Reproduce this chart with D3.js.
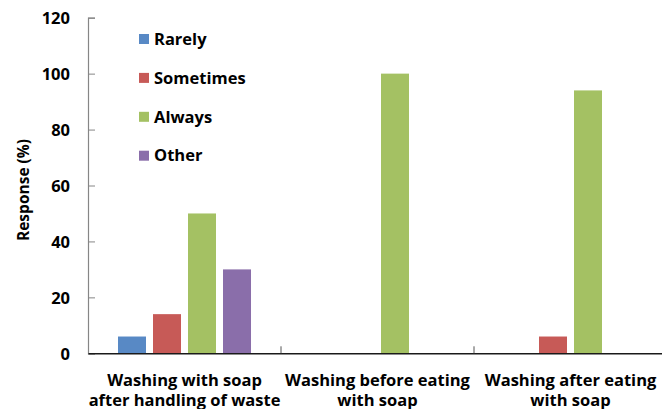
<!DOCTYPE html>
<html>
<head>
<meta charset="utf-8">
<script src="https://cdn.jsdelivr.net/npm/d3@7"></script>
<style>
  html, body { margin: 0; padding: 0; background: #fff; }
  svg { display: block; }
  text { font-family: "Open Sans", Lato, sans-serif; font-weight: bold; fill: #000; }
</style>
</head>
<body>
<svg id="chart" width="662" height="409"></svg>
<script>
// Hand-washing practice responses (%)
const categories = [
  ["Washing with soap", "after handling of waste"],
  ["Washing before eating", "with soap"],
  ["Washing after eating", "with soap"]
];
const series = ["Rarely", "Sometimes", "Always", "Other"];
const rarely    = [6, 0, 0];
const sometimes = [14, 0, 6];
const always    = [50, 100, 94];
const other     = [30, 0, 0];
const yTicks = [0, 20, 40, 60, 80, 100, 120];
const colors = ["#5889c5", "#c75a57", "#a4c163", "#8a6eaa"];

const values = [rarely, sometimes, always, other];

const svg = d3.select("#chart");

const y = d3.scaleLinear().domain([0, 120]).range([353.3, 17.7]);
const x0 = d3.scaleBand().domain(d3.range(categories.length)).range([88, 667]);
const x1 = d3.scaleBand().domain(series).range([0, x0.bandwidth()])
  .paddingInner(0.2).paddingOuter(0.857);
const color = d3.scaleOrdinal().domain(series).range(colors);

// Bars
const groups = svg.append("g").selectAll("g")
  .data(categories.map((c, i) => i))
  .join("g")
  .attr("transform", i => `translate(${x0(i)},0)`);

groups.selectAll("rect")
  .data(i => series.map((s, k) => ({ s, v: values[k][i] })).filter(d => d.v > 0))
  .join("rect")
  .attr("x", d => x1(d.s))
  .attr("width", x1.bandwidth())
  .attr("y", d => y(d.v))
  .attr("height", d => y(0) - y(d.v))
  .attr("fill", d => color(d.s));

// Y axis
const yAxis = d3.axisRight(y).tickValues(yTicks).tickSize(7).tickFormat(d3.format("d"));
const gy = svg.append("g").attr("transform", "translate(88,0)").call(yAxis);
gy.select(".domain").attr("stroke", "#868686").attr("stroke-width", 1.2);
gy.selectAll(".tick line").attr("stroke", "#868686");
gy.selectAll(".tick text").attr("x", -18).attr("text-anchor", "end")
  .attr("font-size", 16.5).attr("dy", "0.35em");

// X axis
const xAxis = d3.axisTop(x0).tickSize(0).tickFormat("");
const gx = svg.append("g").attr("transform", `translate(0,${y(0)})`).call(xAxis);
gx.select(".domain").attr("stroke", "#1a1a1a").attr("stroke-width", 1.5);
gx.selectAll(".tick").remove();
// category boundary ticks
gx.selectAll(".sep")
  .data(d3.range(1, categories.length))
  .join("line")
  .attr("x1", i => x0(i)).attr("x2", i => x0(i))
  .attr("y1", 0).attr("y2", -7)
  .attr("stroke", "#555");

// Category labels
const lab = svg.append("g").selectAll("text")
  .data(categories.map((c, i) => ({ c, i })))
  .join("text")
  .attr("text-anchor", "middle")
  .attr("font-size", 16.5)
  .attr("transform", d => `translate(${x0(d.i) + x0.bandwidth() / 2},386)`);
lab.selectAll("tspan")
  .data(d => d.c)
  .join("tspan")
  .attr("x", 0)
  .attr("y", (t, j) => j * 20)
  .text(t => t);

// Y axis title
svg.append("text")
  .attr("transform", "translate(28.5,190) rotate(-90)")
  .attr("text-anchor", "middle")
  .attr("font-size", 15.5)
  .text("Response (%)");

// Legend
const legend = svg.append("g").selectAll("g")
  .data(series)
  .join("g")
  .attr("transform", (s, k) => `translate(139,${39 + k * 38.9})`);
legend.append("rect")
  .attr("x", 0).attr("y", -5).attr("width", 10).attr("height", 10)
  .attr("fill", s => color(s));
legend.append("text")
  .attr("x", 15).attr("dy", "0.35em")
  .attr("font-size", 16.5)
  .text(s => s);
</script>
</body>
</html>
